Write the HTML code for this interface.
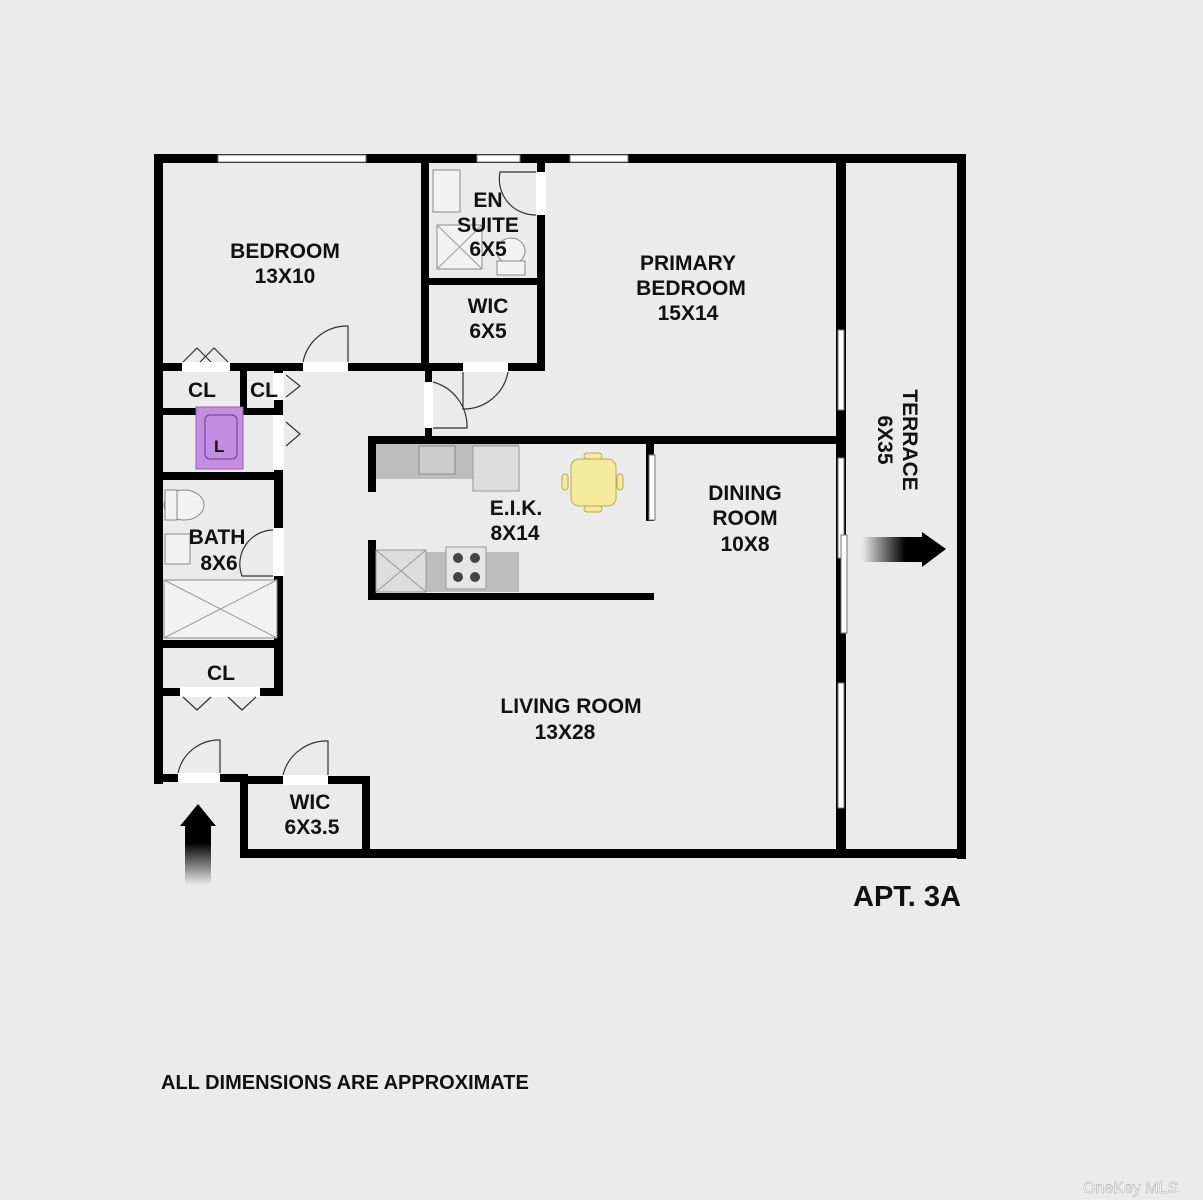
<!DOCTYPE html>
<html><head><meta charset="utf-8"><style>
html,body{margin:0;padding:0;background:#ebebeb;}
svg{display:block}
text{font-family:"Liberation Sans",Arial,sans-serif;font-weight:bold;fill:#111;}
</style></head><body>
<svg width="1203" height="1200" viewBox="0 0 1203 1200" xmlns="http://www.w3.org/2000/svg">
<rect width="1203" height="1200" fill="#ebebeb"/>
<defs>
<linearGradient id="ga" x1="0" y1="1" x2="0" y2="0"><stop offset="0" stop-color="#000" stop-opacity="0"/><stop offset="0.7" stop-color="#000"/></linearGradient>
<linearGradient id="gb" x1="0" y1="0" x2="1" y2="0"><stop offset="0" stop-color="#000" stop-opacity="0"/><stop offset="0.7" stop-color="#000"/></linearGradient>
</defs>
<g fill="#000">
<rect x="154" y="154" width="812" height="9"/>
<rect x="154" y="154" width="9" height="630"/>
<rect x="957" y="154" width="9" height="705"/>
<rect x="240" y="849" width="726" height="9"/>
<rect x="154" y="774" width="94" height="8"/>
<rect x="240" y="774" width="8" height="84"/>
<rect x="240" y="776" width="130" height="8"/>
<rect x="362" y="776" width="8" height="78"/>
<rect x="836" y="163" width="10" height="690"/>
<rect x="154" y="363" width="275" height="8"/>
<rect x="421" y="154" width="8" height="217"/>
<rect x="537" y="154" width="8" height="217"/>
<rect x="421" y="278" width="124" height="7"/>
<rect x="421" y="363" width="124" height="8"/>
<rect x="425" y="371" width="7" height="66"/>
<rect x="368" y="436" width="478" height="8"/>
<rect x="368" y="436" width="8" height="56"/>
<rect x="368" y="540" width="8" height="60"/>
<rect x="368" y="593" width="286" height="7"/>
<rect x="646" y="443" width="8" height="78"/>
<rect x="274" y="363" width="9" height="333"/>
<rect x="240" y="371" width="7" height="40"/>
<rect x="154" y="408" width="129" height="7"/>
<rect x="154" y="472" width="129" height="8"/>
<rect x="154" y="640" width="129" height="8"/>
<rect x="154" y="688" width="129" height="8"/>
</g>
<g fill="#fff" stroke="#777" stroke-width="1">
<rect x="218" y="155" width="148" height="7"/>
<rect x="477" y="155" width="43" height="7"/>
<rect x="570" y="155" width="58" height="7"/>
<rect x="838" y="330" width="6" height="80"/>
<rect x="838" y="458" width="6" height="100"/>
<rect x="841" y="535" width="6" height="98"/>
<rect x="838" y="683" width="6" height="125"/>
<rect x="649" y="455" width="6" height="65"/>
</g>
<g fill="#fff">
<rect x="178" y="773" width="42" height="10"/>
<rect x="283" y="775" width="45" height="10"/>
<rect x="303" y="362" width="45" height="10"/>
<rect x="182" y="362" width="48" height="10"/>
<rect x="463" y="362" width="45" height="10"/>
<rect x="536" y="172" width="10" height="43"/>
<rect x="424" y="382" width="9" height="46"/>
<rect x="273" y="373" width="11" height="27"/>
<rect x="273" y="415" width="11" height="55"/>
<rect x="273" y="528" width="11" height="48"/>
<rect x="180" y="687" width="80" height="10"/>
</g>
<g fill="none" stroke="#333" stroke-width="1.2">
<path d="M348 362 V326 A45 45 0 0 0 303 362"/>
<path d="M220 773 V740 A42 42 0 0 0 178 773"/>
<path d="M328 775 V741 A45 45 0 0 0 283 775"/>
<path d="M463 372 V409 A45 45 0 0 0 508 372"/>
<path d="M433 428 H467 A46 46 0 0 0 433 382"/>
<path d="M536 172 H500 A36 36 0 0 0 536 215"/>
<path d="M273 576 H242 A34 34 0 0 1 273 530"/>
<path d="M183 362 L197 348 L211 362 M200 362 L214 348 L228 362"/>
<path d="M286 375 L300 386 L286 397"/>
<path d="M286 422 L300 434 L286 446"/>
<path d="M183 697 L197 710 L211 697 M228 697 L242 710 L256 697"/>
</g>
<rect x="196" y="407" width="47" height="62" fill="#c48ee0" stroke="#9a5cb8"/>
<rect x="205" y="415" width="32" height="44" rx="5" fill="none" stroke="#6a3a8a"/>
<text x="214" y="452" font-size="17">L</text>
<g fill="#f2f2f2" stroke="#888">
<rect x="433" y="170" width="27" height="42"/>
<rect x="437" y="225" width="45" height="44"/>
<ellipse cx="511" cy="251" rx="14" ry="13"/>
<rect x="497" y="261" width="28" height="14"/>
<ellipse cx="184" cy="505" rx="20" ry="15"/>
<rect x="165" y="490" width="12" height="30"/>
<rect x="165" y="534" width="25" height="30"/>
<rect x="164" y="580" width="113" height="58"/>
</g>
<g stroke="#999" fill="none"><path d="M437 225 L482 269 M482 225 L437 269 M164 580 L277 638 M277 580 L164 638"/></g>
<rect x="376" y="444" width="143" height="35" fill="#bdbdbd"/>
<rect x="419" y="446" width="36" height="28" fill="#ccc" stroke="#888"/>
<rect x="473" y="446" width="46" height="45" fill="#ddd" stroke="#999"/>
<rect x="376" y="552" width="143" height="40" fill="#bdbdbd"/>
<rect x="376" y="550" width="50" height="42" fill="#ddd" stroke="#999"/>
<path d="M376 550 L426 592 M426 550 L376 592" stroke="#999"/>
<rect x="446" y="547" width="40" height="42" fill="#e6e6e6" stroke="#999"/>
<g fill="#444"><circle cx="458" cy="558" r="5"/><circle cx="475" cy="558" r="5"/><circle cx="458" cy="577" r="5"/><circle cx="475" cy="577" r="5"/></g>
<rect x="571" y="459" width="45" height="47" rx="8" fill="#f5e99a" stroke="#b8a860"/>
<g fill="#f5e99a" stroke="#b8a860"><rect x="584" y="453" width="18" height="6" rx="3"/><rect x="584" y="506" width="18" height="6" rx="3"/><rect x="562" y="474" width="6" height="16" rx="3"/><rect x="617" y="474" width="6" height="16" rx="3"/></g>
<rect x="185" y="825" width="26" height="60" fill="url(#ga)"/>
<polygon points="180,826 198,804 216,826" fill="#000"/>
<rect x="862" y="537" width="62" height="25" fill="url(#gb)"/>
<polygon points="922,532 946,549 922,567" fill="#000"/>
<g font-size="21" text-anchor="middle">
<text x="285" y="258">BEDROOM</text><text x="285" y="283">13X10</text>
<text x="488" y="207">EN</text><text x="488" y="232">SUITE</text><text x="488" y="256">6X5</text>
<text x="488" y="313">WIC</text><text x="488" y="338">6X5</text>
<text x="688" y="270">PRIMARY</text><text x="691" y="295">BEDROOM</text><text x="688" y="320">15X14</text>
<text x="202" y="397">CL</text><text x="264" y="397">CL</text>
<text x="217" y="544">BATH</text><text x="219" y="570">8X6</text>
<text x="221" y="680">CL</text>
<text x="516" y="515">E.I.K.</text><text x="515" y="540">8X14</text>
<text x="745" y="500">DINING</text><text x="745" y="525">ROOM</text><text x="745" y="551">10X8</text>
<text x="571" y="713">LIVING ROOM</text><text x="565" y="739">13X28</text>
<text x="310" y="809">WIC</text><text x="312" y="834">6X3.5</text>
<text transform="translate(903,440) rotate(90)">TERRACE</text>
<text transform="translate(878,440) rotate(90)">6X35</text>
</g>
<text x="853" y="906" font-size="29">APT. 3A</text>
<text x="161" y="1089" font-size="20">ALL DIMENSIONS ARE APPROXIMATE</text>
<text x="1083" y="1193" font-size="16" style="font-weight:normal;fill:#fff;stroke:#999;stroke-width:0.4">OneKey MLS</text>
</svg>
</body></html>
